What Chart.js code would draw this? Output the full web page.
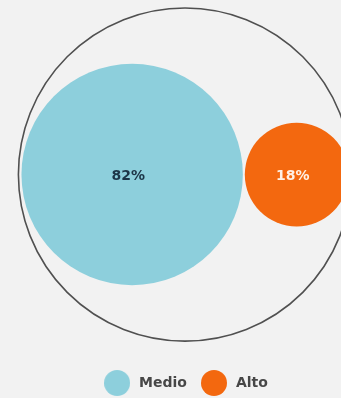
<!DOCTYPE html>
<html>
<head>
<meta charset="utf-8">
<script src="https://cdn.jsdelivr.net/npm/chart.js@4/dist/chart.umd.min.js"></script>
<style>
  html, body { margin: 0; padding: 0; background: #f2f2f2; overflow: hidden; }
  #wrap { width: 370px; height: 400px; }
</style>
</head>
<body>
<div id="wrap"><canvas id="c" width="370" height="400"></canvas></div>
<script>
// Shares of each level (percent)
const categories = ['Medio', 'Alto'];
const shares = [82, 18];
const fills = ['#8dcfdc', '#f3680f'];
const labelColors = ['#1c3547', '#fff1e6'];

// Packed layout: circle areas proportional to the shares, placed side by side
// and wrapped by an enclosing ring. Units are sqrt(percent).
const GAP = 0.16;
const RING_MARGIN = 0.25;
const radii = shares.map(v => Math.sqrt(v));
const span = 2 * radii[0] + GAP + 2 * radii[1];
const centersX = [-span / 2 + radii[0], span / 2 - radii[1]];
const ringR = span / 2 + RING_MARGIN;
const Y_MAX = ringR + 0.65;
const Y_MIN = -(ringR + 1.87);

function dot(color, d) {
  const c = document.createElement('canvas');
  c.width = d; c.height = d;
  const g = c.getContext('2d');
  g.fillStyle = color;
  g.beginPath();
  g.arc(d / 2, d / 2, d / 2, 0, Math.PI * 2);
  g.fill();
  return c;
}
const legendDots = fills.map(f => dot(f, 26));

const datasets = categories.map((name, i) => ({
  label: name,
  data: [{ x: centersX[i], y: 0, r: 1 }],
  backgroundColor: fills[i],
  borderWidth: 0
}));
// enclosing ring for the total
datasets.push({
  label: 'Total',
  data: [{ x: 0, y: 0, r: 1 }],
  backgroundColor: 'rgba(0,0,0,0)',
  borderColor: '#505050',
  borderWidth: 1.6
});
const unitRadii = [...radii, ringR];

// percentage text inside each bubble
const valueLabels = {
  id: 'valueLabels',
  afterDatasetsDraw(chart) {
    const ctx = chart.ctx;
    categories.forEach((c, i) => {
      const el = chart.getDatasetMeta(i).data[0];
      ctx.save();
      ctx.font = 'bold 14px "DejaVu Sans"';
      ctx.fillStyle = labelColors[i];
      ctx.textAlign = 'center';
      ctx.textBaseline = 'middle';
      ctx.fillText(shares[i] + '%', el.x - 4, el.y + 2);
      ctx.restore();
    });
  }
};

const chart = new Chart(document.getElementById('c'), {
  type: 'bubble',
  data: { datasets },
  options: {
    responsive: false,
    animation: false,
    events: [],
    layout: { padding: 0, autoPadding: false },
    scales: {
      x: { type: 'linear', display: false, min: -15, max: 15 },
      y: { type: 'linear', display: false, min: Y_MIN, max: Y_MAX }
    },
    plugins: {
      tooltip: { enabled: false },
      legend: {
        position: 'bottom',
        labels: {
          usePointStyle: true,
          pointStyleWidth: 30,
          padding: 12,
          color: '#474747',
          font: { family: 'DejaVu Sans', size: 14, weight: 'bold' },
          generateLabels(chart) {
            const items = Chart.defaults.plugins.legend.labels.generateLabels(chart);
            return items
              .filter(it => it.datasetIndex < categories.length)
              .map(it => Object.assign(it, { pointStyle: legendDots[it.datasetIndex], lineWidth: 0 }));
          }
        }
      }
    }
  },
  plugins: [valueLabels]
});

// keep one unit the same length on both axes, and size each bubble (pixels) from its share
const ca = chart.chartArea;
const k = ca.height / (Y_MAX - Y_MIN);
const half = ca.width / k / 2;
chart.options.scales.x.min = -half;
chart.options.scales.x.max = half;
chart.data.datasets.forEach((ds, i) => { ds.data[0].r = unitRadii[i] * k; });
chart.update('none');
</script>
</body>
</html>
